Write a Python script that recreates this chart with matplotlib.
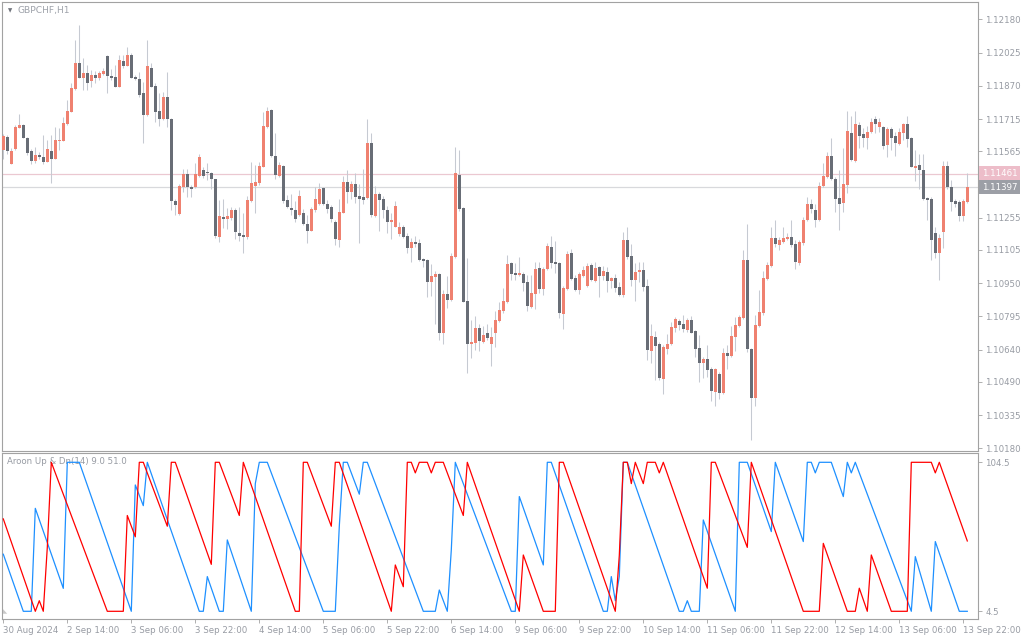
import numpy as np
import matplotlib.pyplot as plt
from matplotlib.transforms import blended_transform_factory

# GBPCHF H1, one candle per hour from 30 Aug 22:00 to 13 Sep 23:00
opens = [
    1.11571, 1.11633, 1.11506, 1.11575, 1.11675, 1.11687, 1.11628, 1.11567, 1.11521, 1.11549,
    1.11540, 1.11515, 1.11567, 1.11530, 1.11614, 1.11614, 1.11693, 1.11749, 1.11855, 1.11978,
    1.11908, 1.11930, 1.11891, 1.11920, 1.11908, 1.11927, 1.12010, 1.11916, 1.11911, 1.11864,
    1.11986, 1.11964, 1.12014, 1.11911, 1.11903, 1.11836, 1.11734, 1.11953, 1.11869, 1.11753,
    1.11715, 1.11818, 1.11715, 1.11333, 1.11272, 1.11400, 1.11459, 1.11397, 1.11397, 1.11450,
    1.11478, 1.11468, 1.11465, 1.11434, 1.11166, 1.11260, 1.11250, 1.11254, 1.11291, 1.11184,
    1.11174, 1.11166, 1.11333, 1.11403, 1.11415, 1.11493, 1.11679, 1.11757, 1.11544, 1.11451,
    1.11498, 1.11338, 1.11300, 1.11291, 1.11266, 1.11276, 1.11226, 1.11194, 1.11291, 1.11319,
    1.11392, 1.11319, 1.11305, 1.11237, 1.11151, 1.11278, 1.11422, 1.11375, 1.11412, 1.11356,
    1.11352, 1.11347, 1.11605, 1.11263, 1.11366, 1.11342, 1.11291, 1.11237, 1.11213, 1.11179,
    1.11213, 1.11170, 1.11115, 1.11142, 1.11137, 1.11063, 1.11058, 1.10957, 1.10980, 1.10993,
    1.10719, 1.10899, 1.10871, 1.11073, 1.11454, 1.11300, 1.10867, 1.10666, 1.10671, 1.10741,
    1.10676, 1.10718, 1.10666, 1.10719, 1.10774, 1.10822, 1.10864, 1.11044, 1.10997, 1.10988,
    1.10993, 1.10955, 1.10839, 1.10899, 1.11021, 1.10923, 1.11016, 1.11119, 1.11049, 1.11044,
    1.10806, 1.10923, 1.11091, 1.10974, 1.10918, 1.10983, 1.10937, 1.11035, 1.10960, 1.11025,
    1.10983, 1.11002, 1.10960, 1.10974, 1.10932, 1.10895, 1.11151, 1.11077, 1.10965, 1.11002,
    1.11011, 1.10937, 1.10634, 1.10699, 1.10666, 1.10503, 1.10643, 1.10666, 1.10741, 1.10774,
    1.10760, 1.10732, 1.10778, 1.10727, 1.10648, 1.10578, 1.10596, 1.10550, 1.10442, 1.10526,
    1.10438, 1.10624, 1.10610, 1.10699, 1.10750, 1.10788, 1.11058, 1.10643, 1.10415, 1.10750,
    1.10811, 1.10969, 1.11031, 1.11160, 1.11128, 1.11142, 1.11156, 1.11165, 1.11133, 1.11044,
    1.11137, 1.11244, 1.11319, 1.11291, 1.11244, 1.11403, 1.11446, 1.11543, 1.11436, 1.11347,
    1.11324, 1.11408, 1.11650, 1.11521, 1.11687, 1.11645, 1.11627, 1.11655, 1.11715, 1.11678,
    1.11678, 1.11594, 1.11669, 1.11636, 1.11599, 1.11650, 1.11692, 1.11627, 1.11488, 1.11501,
    1.11478, 1.11347, 1.11342, 1.11182, 1.11089, 1.11187, 1.11498, 1.11398, 1.11333, 1.11328,
    1.11263, 1.11328,
]
highs = [
    1.11645, 1.11641, 1.11579, 1.11687, 1.11739, 1.11692, 1.11631, 1.11575, 1.11586, 1.11563,
    1.11641, 1.11616, 1.11641, 1.11679, 1.11672, 1.11726, 1.11804, 1.11882, 1.12084, 1.12155,
    1.11998, 1.11967, 1.11944, 1.11938, 1.11940, 1.11952, 1.12012, 1.11947, 1.11967, 1.12014,
    1.12014, 1.12052, 1.12022, 1.11920, 1.11936, 1.11889, 1.12084, 1.11978, 1.11882, 1.11835,
    1.11843, 1.11936, 1.11719, 1.11341, 1.11412, 1.11481, 1.11481, 1.11408, 1.11509, 1.11552,
    1.11493, 1.11509, 1.11470, 1.11437, 1.11338, 1.11341, 1.11299, 1.11306, 1.11300, 1.11306,
    1.11276, 1.11358, 1.11516, 1.11501, 1.11516, 1.11749, 1.11770, 1.11760, 1.11649, 1.11513,
    1.11501, 1.11361, 1.11366, 1.11333, 1.11384, 1.11294, 1.11268, 1.11306, 1.11400, 1.11415,
    1.11400, 1.11338, 1.11314, 1.11244, 1.11342, 1.11450, 1.11478, 1.11426, 1.11462, 1.11412,
    1.11482, 1.11715, 1.11649, 1.11403, 1.11375, 1.11356, 1.11310, 1.11276, 1.11333, 1.11235,
    1.11221, 1.11185, 1.11159, 1.11170, 1.11154, 1.11069, 1.11063, 1.11039, 1.11008, 1.10997,
    1.10918, 1.10983, 1.11089, 1.11586, 1.11571, 1.11306, 1.11069, 1.10778, 1.10797, 1.10760,
    1.10750, 1.10760, 1.10744, 1.10822, 1.10864, 1.10926, 1.11081, 1.11050, 1.11045, 1.11071,
    1.11003, 1.10988, 1.10988, 1.11050, 1.11050, 1.11027, 1.11139, 1.11170, 1.11146, 1.11050,
    1.10937, 1.11100, 1.11108, 1.10988, 1.11003, 1.11030, 1.11042, 1.11045, 1.11049, 1.11030,
    1.11030, 1.11027, 1.10980, 1.10993, 1.10955, 1.11188, 1.11212, 1.11133, 1.11045, 1.11049,
    1.11049, 1.10969, 1.10760, 1.10727, 1.10676, 1.10662, 1.10713, 1.10770, 1.10794, 1.10781,
    1.10803, 1.10786, 1.10797, 1.10732, 1.10708, 1.10607, 1.10662, 1.10560, 1.10554, 1.10537,
    1.10648, 1.10662, 1.10750, 1.10794, 1.10802, 1.11105, 1.11226, 1.10648, 1.10802, 1.10918,
    1.11008, 1.11050, 1.11210, 1.11244, 1.11166, 1.11213, 1.11182, 1.11244, 1.11151, 1.11151,
    1.11260, 1.11353, 1.11341, 1.11319, 1.11423, 1.11509, 1.11563, 1.11628, 1.11446, 1.11478,
    1.11579, 1.11753, 1.11729, 1.11753, 1.11703, 1.11672, 1.11683, 1.11719, 1.11731, 1.11719,
    1.11683, 1.11679, 1.11679, 1.11656, 1.11675, 1.11698, 1.11731, 1.11630, 1.11571, 1.11552,
    1.11552, 1.11353, 1.11353, 1.11213, 1.11179, 1.11519, 1.11519, 1.11431, 1.11342, 1.11338,
    1.11341, 1.11462,
]
lows = [
    1.11527, 1.11552, 1.11506, 1.11572, 1.11672, 1.11625, 1.11547, 1.11506, 1.11512, 1.11529,
    1.11506, 1.11515, 1.11415, 1.11527, 1.11571, 1.11611, 1.11689, 1.11747, 1.11852, 1.11905,
    1.11850, 1.11850, 1.11866, 1.11882, 1.11897, 1.11920, 1.11838, 1.11897, 1.11863, 1.11863,
    1.11952, 1.11962, 1.11905, 1.11897, 1.11819, 1.11602, 1.11731, 1.11863, 1.11703, 1.11683,
    1.11712, 1.11679, 1.11291, 1.11268, 1.11268, 1.11376, 1.11353, 1.11350, 1.11392, 1.11444,
    1.11439, 1.11431, 1.11387, 1.11159, 1.11142, 1.11207, 1.11204, 1.11244, 1.11156, 1.11148,
    1.11092, 1.11157, 1.11330, 1.11276, 1.11408, 1.11490, 1.11672, 1.11540, 1.11436, 1.11446,
    1.11322, 1.11299, 1.11268, 1.11237, 1.11263, 1.11221, 1.11139, 1.11193, 1.11282, 1.11314,
    1.11316, 1.11276, 1.11237, 1.11128, 1.11120, 1.11276, 1.11322, 1.11342, 1.11322, 1.11139,
    1.11319, 1.11342, 1.11260, 1.11257, 1.11194, 1.11252, 1.11185, 1.11154, 1.11210, 1.11170,
    1.11160, 1.11092, 1.11050, 1.11120, 1.11053, 1.11027, 1.10887, 1.10890, 1.10760, 1.10685,
    1.10666, 1.10833, 1.10868, 1.11067, 1.11288, 1.10860, 1.10532, 1.10602, 1.10638, 1.10635,
    1.10672, 1.10685, 1.10565, 1.10654, 1.10770, 1.10812, 1.10859, 1.10965, 1.10965, 1.10983,
    1.10915, 1.10822, 1.10833, 1.10829, 1.10905, 1.10895, 1.11011, 1.11022, 1.10999, 1.10789,
    1.10738, 1.10918, 1.10965, 1.10913, 1.10899, 1.10977, 1.10933, 1.10960, 1.10957, 1.10885,
    1.10965, 1.10910, 1.10926, 1.10910, 1.10890, 1.10884, 1.11063, 1.10937, 1.10867, 1.10955,
    1.10913, 1.10592, 1.10579, 1.10498, 1.10498, 1.10435, 1.10620, 1.10662, 1.10724, 1.10732,
    1.10724, 1.10724, 1.10716, 1.10607, 1.10489, 1.10508, 1.10514, 1.10400, 1.10379, 1.10410,
    1.10435, 1.10550, 1.10607, 1.10634, 1.10747, 1.10781, 1.10630, 1.10219, 1.10379, 1.10747,
    1.10802, 1.10965, 1.11027, 1.11120, 1.11105, 1.11136, 1.11151, 1.11120, 1.11016, 1.11035,
    1.11128, 1.11240, 1.11276, 1.11213, 1.11240, 1.11400, 1.11442, 1.11431, 1.11283, 1.11198,
    1.11283, 1.11372, 1.11521, 1.11516, 1.11579, 1.11586, 1.11575, 1.11649, 1.11649, 1.11656,
    1.11574, 1.11540, 1.11571, 1.11544, 1.11594, 1.11617, 1.11586, 1.11490, 1.11428, 1.11389,
    1.11338, 1.11244, 1.11058, 1.11066, 1.10965, 1.11112, 1.11387, 1.11288, 1.11306, 1.11241,
    1.11240, 1.11325,
]
closes = [
    1.11636, 1.11567, 1.11567, 1.11679, 1.11687, 1.11628, 1.11558, 1.11521, 1.11549, 1.11540,
    1.11515, 1.11575, 1.11530, 1.11617, 1.11617, 1.11697, 1.11753, 1.11860, 1.11978, 1.11908,
    1.11930, 1.11883, 1.11920, 1.11908, 1.11930, 1.11939, 1.11916, 1.11908, 1.11864, 1.11990,
    1.11964, 1.12014, 1.11908, 1.11903, 1.11829, 1.11734, 1.11964, 1.11866, 1.11749, 1.11715,
    1.11818, 1.11715, 1.11333, 1.11314, 1.11403, 1.11459, 1.11397, 1.11387, 1.11459, 1.11540,
    1.11450, 1.11462, 1.11434, 1.11170, 1.11263, 1.11250, 1.11263, 1.11291, 1.11190, 1.11171,
    1.11166, 1.11338, 1.11415, 1.11422, 1.11496, 1.11683, 1.11753, 1.11544, 1.11454, 1.11501,
    1.11333, 1.11304, 1.11291, 1.11248, 1.11356, 1.11226, 1.11194, 1.11294, 1.11341, 1.11387,
    1.11319, 1.11294, 1.11247, 1.11156, 1.11282, 1.11422, 1.11375, 1.11412, 1.11352, 1.11342,
    1.11338, 1.11605, 1.11268, 1.11366, 1.11338, 1.11291, 1.11235, 1.11244, 1.11310, 1.11213,
    1.11166, 1.11115, 1.11142, 1.11133, 1.11059, 1.11055, 1.10957, 1.10983, 1.10993, 1.10719,
    1.10899, 1.10871, 1.11077, 1.11464, 1.11296, 1.10864, 1.10666, 1.10676, 1.10741, 1.10680,
    1.10708, 1.10694, 1.10699, 1.10778, 1.10825, 1.10867, 1.11039, 1.10993, 1.10988, 1.10997,
    1.10951, 1.10843, 1.10904, 1.11016, 1.10923, 1.11016, 1.11123, 1.11044, 1.11039, 1.10811,
    1.10927, 1.11086, 1.10969, 1.10918, 1.10993, 1.11011, 1.11030, 1.10965, 1.11021, 1.10983,
    1.11007, 1.10960, 1.10974, 1.10927, 1.10895, 1.11151, 1.11072, 1.10965, 1.11002, 1.11011,
    1.10932, 1.10638, 1.10704, 1.10657, 1.10508, 1.10652, 1.10666, 1.10746, 1.10781, 1.10755,
    1.10736, 1.10778, 1.10718, 1.10643, 1.10578, 1.10596, 1.10545, 1.10447, 1.10550, 1.10438,
    1.10624, 1.10610, 1.10704, 1.10755, 1.10792, 1.11058, 1.10643, 1.10415, 1.10755, 1.10816,
    1.10974, 1.11035, 1.11160, 1.11133, 1.11151, 1.11160, 1.11165, 1.11128, 1.11049, 1.11142,
    1.11244, 1.11319, 1.11296, 1.11244, 1.11403, 1.11450, 1.11543, 1.11436, 1.11342, 1.11319,
    1.11412, 1.11659, 1.11524, 1.11692, 1.11636, 1.11627, 1.11655, 1.11701, 1.11692, 1.11701,
    1.11589, 1.11669, 1.11627, 1.11603, 1.11655, 1.11692, 1.11622, 1.11493, 1.11498, 1.11478,
    1.11342, 1.11338, 1.11151, 1.11089, 1.11159, 1.11498, 1.11398, 1.11328, 1.11319, 1.11263,
    1.11333, 1.11398,
]

# Aroon(14) turning points (bar index, value on panel scale)
aroon_dn_bar = [0, 8, 9, 10, 11, 12, 26, 30, 31, 33, 34, 35, 41, 42, 43, 52, 53, 54, 59, 60,
                73, 74, 75, 76, 82, 83, 84, 97, 98, 100, 101, 102, 103, 104, 106, 107, 108, 110,
                115, 116, 129, 130, 135, 138, 139, 140, 153, 154, 155, 156, 157, 158, 160, 161,
                163, 164, 165, 176, 177, 178, 186, 187, 200, 204, 205, 211, 213, 214, 216, 217,
                222, 226, 227, 232, 233, 234, 241]
aroon_dn_val = [66.5, 4.5, 11.6, 4.5, 47.4, 104.5, 4.5, 4.5, 68.8, 54.5, 104.5, 104.5, 61.6,
                104.5, 104.5, 36.0, 104.5, 104.5, 68.8, 104.5, 4.5, 4.5, 104.5, 104.5, 61.6,
                104.5, 104.5, 4.5, 35.6, 21.0, 104.5, 104.5, 97.4, 104.5, 104.5, 97.4, 104.5,
                104.5, 68.8, 104.5, 4.5, 42.3, 4.5, 4.5, 104.5, 104.5, 4.5, 42.0, 104.5, 104.5,
                90.2, 104.5, 90.2, 104.5, 104.5, 97.4, 104.5, 20.0, 104.5, 104.5, 47.4, 104.5,
                4.5, 4.5, 50.1, 4.5, 4.5, 20.0, 4.5, 42.3, 4.5, 4.5, 104.5, 104.5, 97.4, 104.5,
                51.7]
aroon_up_bar = [0, 5, 7, 8, 15, 16, 19, 32, 33, 35, 36, 49, 50, 51, 54, 55, 56, 62, 63, 64,
                66, 80, 83, 84, 85, 86, 89, 90, 91, 105, 108, 109, 111, 112, 113, 127, 128, 129,
                135, 136, 137, 150, 151, 152, 153, 154, 155, 156, 169, 170, 171, 172, 174, 175,
                183, 184, 186, 192, 193, 200, 201, 202, 203, 204, 207, 210, 211, 212, 213, 227,
                228, 232, 233, 239, 241]
aroon_up_val = [42.8, 4.5, 4.5, 73.6, 19.9, 104.5, 104.5, 4.5, 89.3, 75.4, 104.5, 4.5, 4.5,
                27.8, 4.5, 4.5, 52.4, 4.5, 90.2, 104.5, 104.5, 4.5, 4.5, 61.6, 104.5, 104.5,
                83.1, 104.5, 104.5, 4.5, 4.5, 18.8, 4.5, 45.7, 104.5, 4.5, 4.5, 81.5, 35.6,
                104.5, 104.5, 4.5, 4.5, 27.8, 11.6, 27.8, 104.5, 104.5, 4.5, 4.5, 11.6, 4.5,
                4.5, 65.8, 4.5, 104.5, 104.5, 58.0, 104.5, 51.3, 104.5, 104.5, 97.4, 104.5,
                104.5, 81.5, 104.5, 97.4, 104.5, 4.5, 41.2, 4.5, 51.3, 4.5, 4.5]

time_labels = ['30 Aug 2024', '2 Sep 14:00', '3 Sep 06:00', '3 Sep 22:00', '4 Sep 14:00',
               '5 Sep 06:00', '5 Sep 22:00', '6 Sep 14:00', '9 Sep 06:00', '9 Sep 22:00',
               '10 Sep 14:00', '11 Sep 06:00', '11 Sep 22:00', '12 Sep 14:00', '13 Sep 06:00',
               '13 Sep 22:00']
time_label_bars = list(range(0, 241, 16))

price_ticks = [1.12180, 1.12025, 1.11870, 1.11715, 1.11565, 1.11410, 1.11255,
               1.11105, 1.10950, 1.10795, 1.10640, 1.10490, 1.10335, 1.10180]
aroon_ticks = [104.5, 4.5]

ask_price = 1.11461
bid_price = 1.11397

BULL = '#EF8170'
BEAR = '#686D76'
WICK = '#C6CAD2'
FRAME = '#A2A2A2'
TXT = '#979BA3'
FS = 6.2

W, H = 1024, 640
fig = plt.figure(figsize=(W / 100, H / 100), dpi=100, facecolor='white')


def px_box(x0, y0, x1, y1):
    return [x0 / W, 1 - y1 / H, (x1 - x0) / W, (y1 - y0) / H]


ax = fig.add_axes(px_box(2.3, 2.3, 978.3, 451.3))
ax2 = fig.add_axes(px_box(2.3, 453.3, 978.3, 619))

o = np.array(opens)
h = np.array(highs)
l = np.array(lows)
c = np.array(closes)
x = np.arange(len(o))
up = c >= o

ax.axhline(ask_price, color='#EBC8D1', lw=0.9, zorder=1)
ax.axhline(bid_price, color='#D8D9DC', lw=0.9, zorder=1)
ax.vlines(x, l, h, color=WICK, lw=0.75, zorder=2)
ax.bar(x, np.maximum(np.abs(c - o), 0.00003), bottom=np.minimum(o, c), width=0.75,
       color=np.where(up, BULL, BEAR), lw=0, zorder=3)

ax.set_xlim(-0.25, 243.75)
ax.set_ylim(1.10166, 1.122593)
ax.set_xticks([])
ax.yaxis.tick_right()
ax.set_yticks(price_ticks)
# the 1.11410 label sits under the bid tag, so only its tick mark shows
ax.set_yticklabels(['' if abs(p - 1.11410) < 1e-6 else f'{p:.5f}' for p in price_ticks])

trans = blended_transform_factory(ax.transAxes, ax.transData)
ax.text(1.0035, ask_price, f'{ask_price:.5f}', transform=trans, ha='left', va='center',
        fontsize=FS, color='white', clip_on=False, zorder=6,
        bbox=dict(boxstyle='square,pad=0.3', fc='#EDBDC9', ec='none'))
ax.text(1.0035, bid_price, f'{bid_price:.5f}', transform=trans, ha='left', va='center',
        fontsize=FS, color='white', clip_on=False, zorder=6,
        bbox=dict(boxstyle='square,pad=0.3', fc='#9C9FA6', ec='none'))

# aroon panel
ax2.plot(aroon_up_bar, aroon_up_val, color='#1E90FF', lw=0.9, zorder=3)
ax2.plot(aroon_dn_bar, aroon_dn_val, color='#FF0000', lw=0.9, zorder=4)
ax2.text(0.0051, 0.9475, 'Aroon Up & Dn(14) 9.0 51.0', transform=ax2.transAxes,
         ha='left', va='center', fontsize=FS, color=TXT, zorder=1)
ax2.text(0.001, 0.03, '\u25e3', transform=ax2.transAxes, ha='left', va='bottom',
         fontsize=4, color='#C8C8C8')
ax2.set_xlim(-0.25, 243.75)
ax2.set_ylim(-0.67, 110.54)
ax2.yaxis.tick_right()
ax2.set_yticks(aroon_ticks)
ax2.set_yticklabels(['104.5', '4.5'])
ax2.set_xticks(time_label_bars)
ax2.set_xticklabels(time_labels, ha='left')

for a in (ax, ax2):
    a.set_facecolor('white')
    for s in a.spines.values():
        s.set_color(FRAME)
        s.set_linewidth(0.8)
    a.tick_params(axis='both', length=3, width=0.6, color=FRAME, labelsize=FS,
                  labelcolor=TXT, pad=2)

fig.text(18 / W, 1 - 10 / H, 'GBPCHF,H1', ha='left', va='center', fontsize=6.6, color='#9EA2AA')
fig.text(10 / W, 1 - 10.5 / H, '\u25bc', ha='center', va='center', fontsize=4, color='#70747C')

fig.savefig('out.png', dpi=100, facecolor='white')
